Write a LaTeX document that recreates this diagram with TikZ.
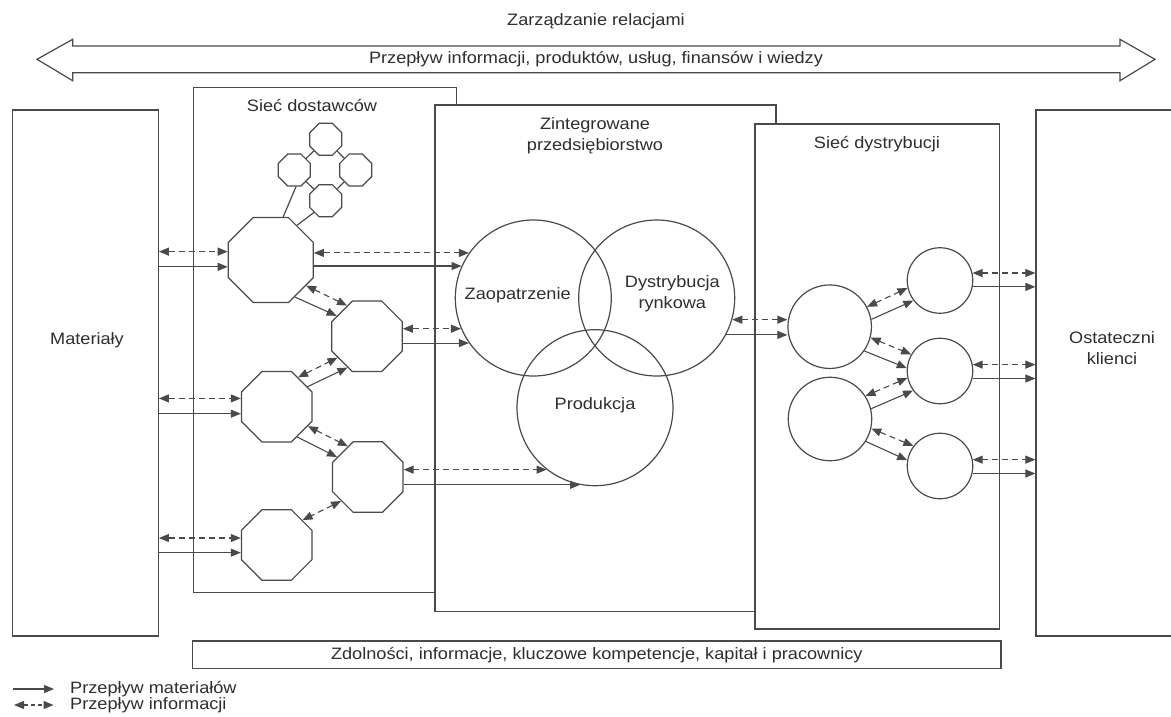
\documentclass[tikz,border=0pt]{standalone}
\usepackage{fontspec}
\setmainfont{Liberation Sans}[FakeStretch=1.1]
\usetikzlibrary{arrows.meta,shapes.geometric}

\definecolor{ink}{HTML}{4A4A4A}
\definecolor{txt}{HTML}{2E2E2E}

\begin{document}
\begin{tikzpicture}[x=1pt,y=-1pt,
  every node/.style={text=txt,font=\fontsize{16.5}{21}\selectfont,inner sep=0pt},
  frame/.style={draw=ink,line width=1.2pt,rectangle,inner sep=0pt},
  oct/.style={draw=ink,line width=1.2pt,regular polygon,regular polygon sides=8,inner sep=0pt,fill=white},
  ring/.style={draw=ink,line width=1.2pt,circle,inner sep=0pt},
  >={Triangle[length=10pt,width=8pt]},
  matflow/.style={draw=ink,line width=1.1pt,->},
  infoflow/.style={draw=ink,line width=1.1pt,dash pattern=on 6pt off 4pt,<->},
  link/.style={draw=ink,line width=1.2pt}
]
\useasboundingbox (0,0) rectangle (1171,716);
\fill[white] (0,0) rectangle (1171,716);
\clip (0,0) rectangle (1171,716);

% relationship management band
\node (reltxt) at (596,21) {Zarządzanie relacjami};
\draw[link,line join=miter] (37,59.3) -- (72.7,39.3) -- (72.7,46) -- (1120,46)
  -- (1120,39.3) -- (1155,59.3) -- (1120,80.7) -- (1120,72.7) -- (72.7,72.7)
  -- (72.7,80.7) -- cycle;
\node (flowtxt) at (596,59.3) {Przepływ informacji, produktów, usług, finansów i wiedzy};

% outer blocks
\node[frame,minimum width=145.6pt,minimum height=526pt] (matbox) at (85.5,373) {};
\node (mattxt) at (87,340) {Materiały};

\node[frame,fill=white,minimum width=263.4pt,minimum height=505.4pt] (supbox) at (325,340) {};
\node (suptxt) at (312,105) {Sieć dostawców};

\node[frame,fill=white,minimum width=341pt,minimum height=506.7pt] (entbox) at (605.5,358.35) {};
\node[align=center] (enttxt) at (595,135.5) {Zintegrowane\\przedsiębiorstwo};

\node[frame,fill=white,minimum width=244.5pt,minimum height=505pt] (distbox) at (877.25,376.5) {};
\node (disttxt) at (877,144) {Sieć dystrybucji};

\node[frame,minimum width=170pt,minimum height=526pt] (custbox) at (1121,373) {};
\node[align=center] (custtxt) at (1112,348.5) {Ostateczni\\klienci};

\node[frame,minimum width=808.3pt,minimum height=27.3pt] (capbox) at (596.85,654.65)
  {Zdolności, informacje, kluczowe kompetencje, kapitał i pracownicy};

% supplier network
\node[oct,minimum size=92pt] (O1) at (270.8,260) {};
\node[oct,minimum size=76.4pt] (O2) at (367,336.3) {};
\node[oct,minimum size=76.4pt] (O3) at (276.7,406.7) {};
\node[oct,minimum size=76.4pt] (O4) at (367.8,477) {};
\node[oct,minimum size=76.4pt] (O5) at (276.7,545) {};
\node[oct,minimum size=34.6pt] (S1) at (325.7,139.3) {};
\node[oct,minimum size=34.6pt] (S2) at (294.3,170) {};
\node[oct,minimum size=34.6pt] (S3) at (355.7,170) {};
\node[oct,minimum size=34.6pt] (S4) at (325.7,200.7) {};
\draw[link] (S1) -- (S2);
\draw[link] (S1) -- (S3);
\draw[link] (S2) -- (S4);
\draw[link] (S3) -- (S4);
\draw[link] (O1.74) -- (S2.-84);
\draw[link] (O1.53) -- (S4.225);

% integrated enterprise
\node[ring,minimum size=156pt] (zao) at (533.3,298) {};
\node[ring,minimum size=156pt] (dyr) at (656.7,298) {};
\node[ring,minimum size=156pt] (prod) at (595,407.7) {};
\node (zaotxt) at (517.7,295) {Zaopatrzenie};
\node[align=center] (dyrtxt) at (672.3,294) {Dystrybucja\\rynkowa};
\node (prodtxt) at (595,405) {Produkcja};

% distribution network
\node[ring,minimum size=83.5pt] (D1) at (829.7,326.7) {};
\node[ring,minimum size=83.5pt] (D2) at (830,419) {};
\node[ring,minimum size=65.5pt] (R1) at (940,280.5) {};
\node[ring,minimum size=65.5pt] (R2) at (940,371) {};
\node[ring,minimum size=65.5pt] (R3) at (940,466) {};

% materials -> suppliers
\draw[infoflow] (matbox.east |- O1.169) -- (O1.169);
\draw[matflow] (matbox.east |- O1.189) -- (O1.189);
\draw[infoflow] (matbox.east |- O3.167) -- (O3.167);
\draw[matflow] (matbox.east |- O3.191) -- (O3.191);
\draw[infoflow] (matbox.east |- O5.169) -- (O5.169);
\draw[matflow] (matbox.east |- O5.192) -- (O5.192);

% inside the supplier network
\draw[infoflow] (O1.-36) -- (O2.123);
\draw[matflow] (O1.-57) -- (O2.146);
\draw[infoflow] (O3.54) -- (O2.216);
\draw[matflow] (O3.33) -- (O2.238);
\draw[infoflow] (O3.-32) -- (O4.123);
\draw[matflow] (O3.-56) -- (O4.147);
\draw[infoflow] (O4.222) -- (O5.44);

% suppliers -> enterprise
\draw[infoflow] (O1.east |- zao.145) -- (zao.145);
\draw[matflow] (O1.east |- zao.156) -- (zao.156);
\draw[infoflow] (O2.east |- zao.203) -- (zao.203);
\draw[matflow] (O2.east |- zao.215) -- (zao.215);
\draw[infoflow] (O4.east |- prod.232) -- (prod.232);
\draw[matflow] (O4.east |- prod.259) -- (prod.259);

% enterprise -> distribution
\draw[infoflow] (dyr.344) -- (D1.west |- dyr.344);
\draw[matflow] (dyr.332) -- (D1.west |- dyr.332);

% inside the distribution network
\draw[infoflow] (D1.28) -- (R1.193);
\draw[matflow] (D1.10) -- (R1.217);
\draw[infoflow] (D1.345) -- (R2.150);
\draw[matflow] (D1.325) -- (R2.175);
\draw[infoflow] (D2.33) -- (R2.192);
\draw[matflow] (D2.14) -- (R2.216);
\draw[infoflow] (D2.347) -- (R3.143);
\draw[matflow] (D2.328) -- (R3.170);

% distribution -> customers
\draw[infoflow] (R1.13) -- (custbox.west |- R1.13);
\draw[matflow] (R1.-11) -- (custbox.west |- R1.-11);
\draw[infoflow] (R2.11) -- (custbox.west |- R2.11);
\draw[matflow] (R2.-13) -- (custbox.west |- R2.-13);
\draw[infoflow] (R3.11) -- (custbox.west |- R3.11);
\draw[matflow] (R3.-13) -- (custbox.west |- R3.-13);

% legend
\coordinate (lgA) at (13,689);
\coordinate (lgAend) at (54,689);
\coordinate (lgB) at (14,705);
\coordinate (lgBend) at (53.5,705);
\node[anchor=west] (lg1) at (70,689) {Przepływ materiałów};
\node[anchor=west] (lg2) at (70,705) {Przepływ informacji};
\draw[matflow] (lgA) -- (lgAend);
\draw[infoflow,dash pattern=on 4pt off 3pt] (lgB) -- (lgBend);
\end{tikzpicture}
\end{document}
